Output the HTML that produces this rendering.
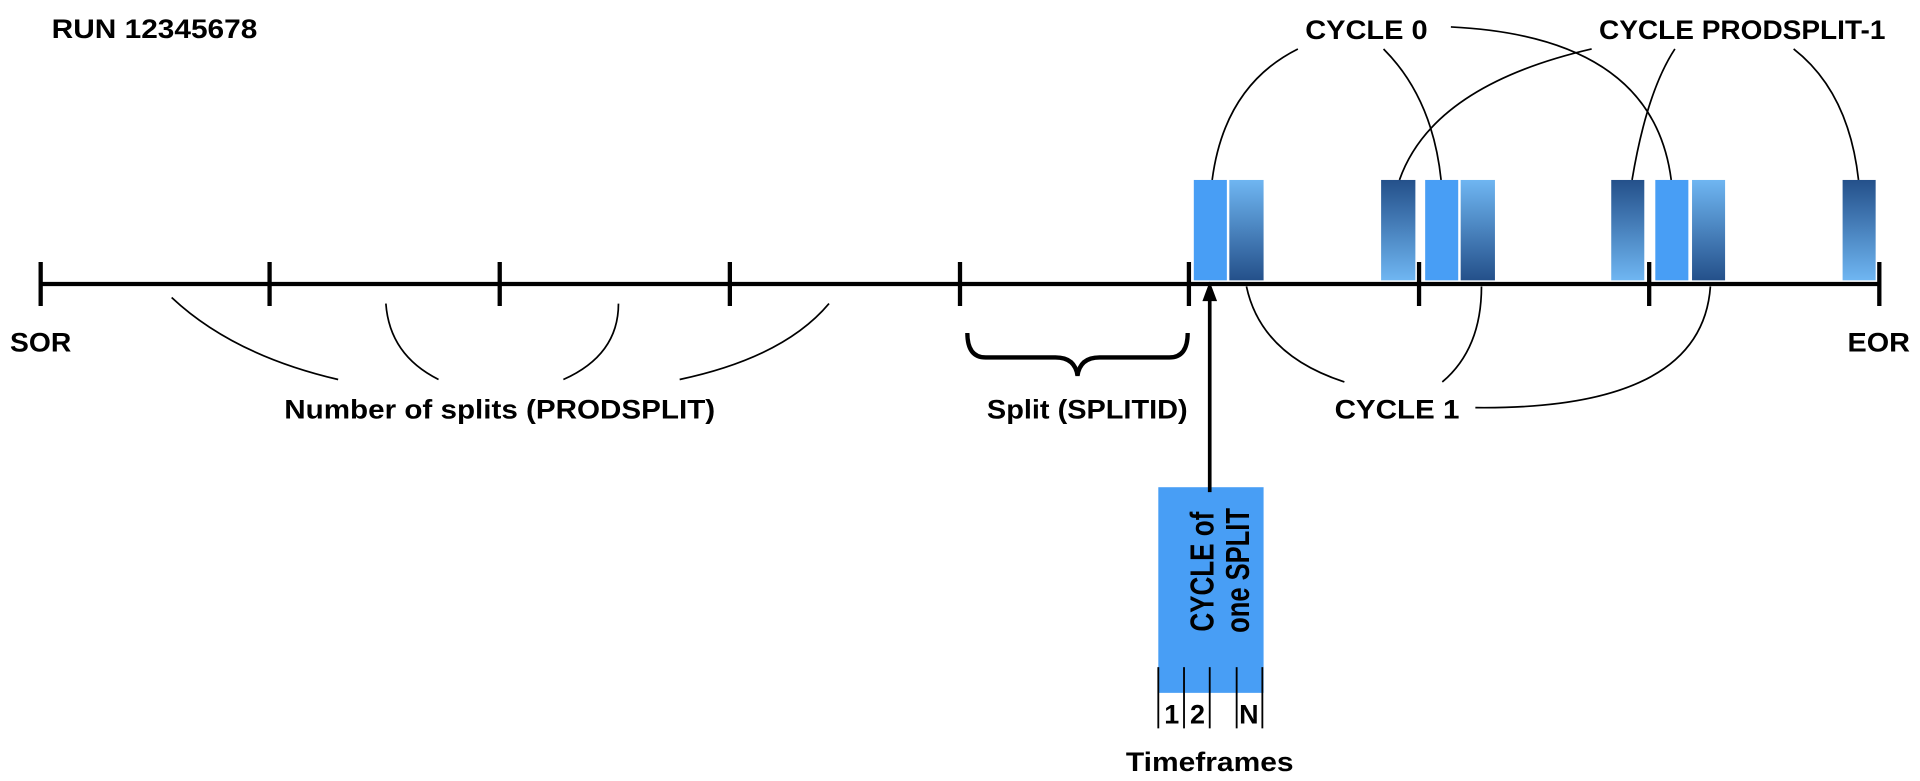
<!DOCTYPE html>
<html><head><meta charset="utf-8"><style>
html,body{margin:0;padding:0;background:#fff;}
svg{display:block;}
text{font-family:"Liberation Sans",Arial,sans-serif;font-weight:bold;fill:#000;}
</style></head><body>
<svg width="1920" height="781" viewBox="0 0 1568 638" xmlns="http://www.w3.org/2000/svg">
<defs>
<linearGradient id="gd" x1="0" y1="0" x2="0" y2="1"><stop offset="0" stop-color="#6fb6f2"/><stop offset="1" stop-color="#24508a"/></linearGradient>
<linearGradient id="gu" x1="0" y1="0" x2="0" y2="1"><stop offset="0" stop-color="#24508a"/><stop offset="1" stop-color="#6fb6f2"/></linearGradient>
</defs>
<text x="42" y="31" font-size="22" textLength="168" lengthAdjust="spacingAndGlyphs">RUN 12345678</text>
<text x="8" y="287" font-size="22" textLength="50" lengthAdjust="spacingAndGlyphs">SOR</text>
<text x="1509" y="287" font-size="22" textLength="51" lengthAdjust="spacingAndGlyphs">EOR</text>
<g>
<rect x="975" y="147" width="27" height="82" fill="#489ef5"/>
<rect x="1004" y="147" width="28" height="82" fill="url(#gd)"/>
<rect x="1128" y="147" width="28" height="82" fill="url(#gu)"/>
<rect x="1164" y="147" width="27" height="82" fill="#489ef5"/>
<rect x="1193" y="147" width="28" height="82" fill="url(#gd)"/>
<rect x="1316" y="147" width="27" height="82" fill="url(#gu)"/>
<rect x="1352" y="147" width="27" height="82" fill="#489ef5"/>
<rect x="1382" y="147" width="27" height="82" fill="url(#gd)"/>
<rect x="1505" y="147" width="27" height="82" fill="url(#gu)"/>
</g>
<g stroke="#000" stroke-width="3.5" fill="none">
<line x1="33" y1="232" x2="1535" y2="232"/>
<line x1="33" y1="214" x2="33" y2="250"/>
<line x1="220" y1="214" x2="220" y2="250"/>
<line x1="408" y1="214" x2="408" y2="250"/>
<line x1="596" y1="214" x2="596" y2="250"/>
<line x1="784" y1="214" x2="784" y2="250"/>
<line x1="971" y1="214" x2="971" y2="250"/>
<line x1="1159" y1="214" x2="1159" y2="250"/>
<line x1="1347" y1="214" x2="1347" y2="250"/>
<line x1="1535" y1="214" x2="1535" y2="250"/>
</g>
<g stroke="#000" stroke-width="1.4" fill="none">
<path d="M140 243 Q190 290 276 310"/>
<path d="M315 248 Q318 290 358 310"/>
<path d="M505 248 Q505 290 460 310"/>
<path d="M677 248 Q640 292 555 310"/>
<path d="M990 147 Q1000 70 1060 40"/>
<path d="M1177 147 Q1170 80 1130 40"/>
<path d="M1143 147 Q1170 70 1300 40"/>
<path d="M1185 22 Q1350 30 1365 147"/>
<path d="M1333 147 Q1345 75 1368 40"/>
<path d="M1518 147 Q1510 75 1465 40"/>
<path d="M1018 234 Q1030 290 1098 312"/>
<path d="M1210 234 Q1210 285 1178 312"/>
<path d="M1397 234 Q1390 335 1205 333"/>
</g>
<path d="M790 272 Q790 292 805 292 L862 292 Q878 292 880 307 Q882 292 898 292 L955 292 Q970 292 970 272" stroke="#000" stroke-width="3.5" fill="none"/>
<text x="408" y="342" font-size="22" text-anchor="middle" textLength="352" lengthAdjust="spacingAndGlyphs">Number of splits (PRODSPLIT)</text>
<text x="888" y="342" font-size="22" text-anchor="middle" textLength="164" lengthAdjust="spacingAndGlyphs">Split (SPLITID)</text>
<text x="1116" y="32" font-size="22" text-anchor="middle" textLength="100" lengthAdjust="spacingAndGlyphs">CYCLE 0</text>
<text x="1423" y="32" font-size="22" text-anchor="middle" textLength="234" lengthAdjust="spacingAndGlyphs">CYCLE PRODSPLIT-1</text>
<text x="1141" y="342" font-size="22" text-anchor="middle" textLength="102" lengthAdjust="spacingAndGlyphs">CYCLE 1</text>
<rect x="946" y="398" width="86" height="168" fill="#489ef5"/>
<line x1="988" y1="402" x2="988" y2="244" stroke="#000" stroke-width="3"/>
<polygon points="988,230 982,246 994,246" fill="#000"/>
<text transform="translate(991,516) rotate(-90)" font-size="27" textLength="98" lengthAdjust="spacingAndGlyphs">CYCLE of</text>
<text transform="translate(1020,517) rotate(-90)" font-size="27" textLength="102" lengthAdjust="spacingAndGlyphs">one SPLIT</text>
<g stroke="#000" stroke-width="1.5">
<line x1="946" y1="545" x2="946" y2="595"/>
<line x1="967" y1="545" x2="967" y2="595"/>
<line x1="988" y1="545" x2="988" y2="595"/>
<line x1="1010" y1="545" x2="1010" y2="595"/>
<line x1="1031" y1="545" x2="1031" y2="595"/>
</g>
<text x="957" y="591" font-size="22" text-anchor="middle">1</text>
<text x="978" y="591" font-size="22" text-anchor="middle">2</text>
<text x="1020" y="591" font-size="22" text-anchor="middle">N</text>
<text x="988" y="630" font-size="22" text-anchor="middle" textLength="137" lengthAdjust="spacingAndGlyphs">Timeframes</text>
</svg>
</body></html>
